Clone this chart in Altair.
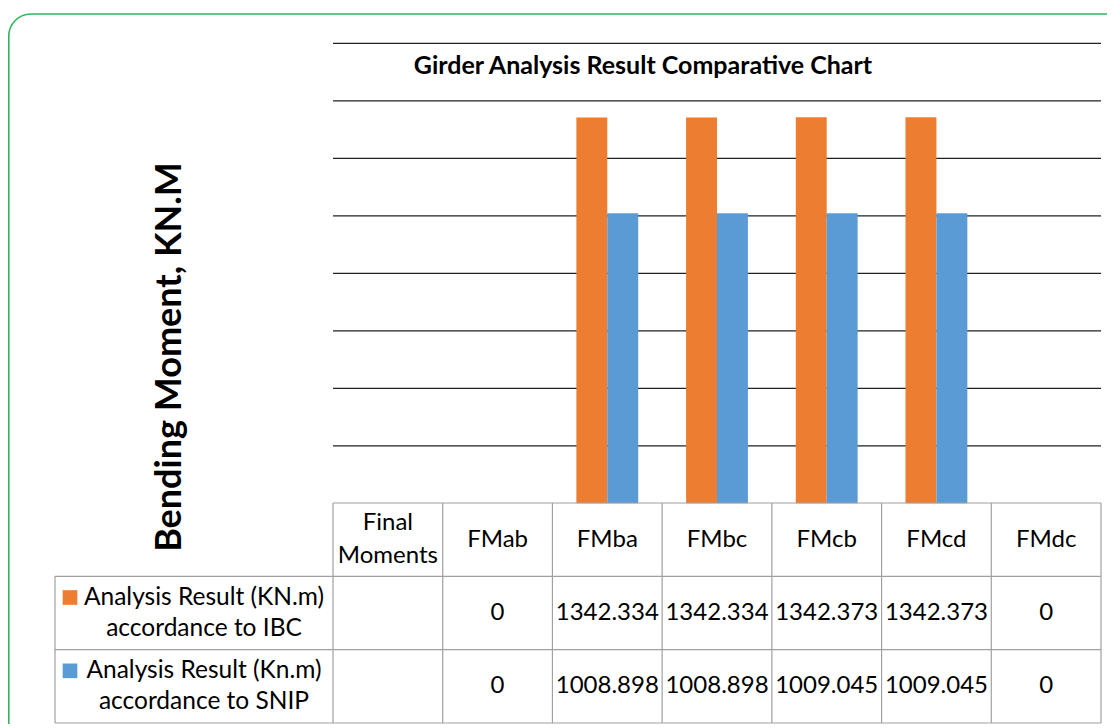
import altair as alt
import pandas as pd

# ---------------- data ----------------
categories = ["Final Moments", "FMab", "FMba", "FMbc", "FMcb", "FMcd", "FMdc"]
header_labels = ["Final\nMoments", "FMab", "FMba", "FMbc", "FMcb", "FMcd", "FMdc"]
series_names = ["IBC", "SNIP"]
series_labels = ["Analysis Result (KN.m)\naccordance to IBC",
                 "Analysis Result (Kn.m)\naccordance to SNIP"]
ibc_values = [None, 0, 1342.334, 1342.334, 1342.373, 1342.373, 0]
snip_values = [None, 0, 1008.898, 1008.898, 1009.045, 1009.045, 0]
series_colors = ["#ED7D31", "#5B9BD5"]
gridline_values = [200, 400, 600, 800, 1000, 1200, 1400, 1600]
title_text = "Girder Analysis Result Comparative Chart"
y_title_text = "Bending Moment, KN.M"

# ---------------- tables ----------------
rows = []
for si, (s, vals) in enumerate(zip(series_names, [ibc_values, snip_values])):
    for c, v in zip(categories, vals):
        if v is None:
            continue
        rows.append({"cat": c, "series": s, "value": v, "row": si + 1.5})
df = pd.DataFrame(rows)
df_head = pd.DataFrame({"cat": categories, "label": header_labels})
df_head["multi"] = df_head["label"].str.contains("\n")
df_series = pd.DataFrame({"series": series_names, "label": series_labels,
                          "row": [1.5, 2.5]})
df_grid = pd.DataFrame({"v": gridline_values})
df_last = pd.DataFrame({"cat": categories[-1:]})
df_one = pd.DataFrame({"t": [title_text], "yt": [y_title_text]})

FONT = "Lato"
PL, PR = 325, 1093          # plot area left / right (px)
LABEL_L = 47                # left edge of the data-table label column

xsc = alt.Scale(domain=categories, range=[PL, PR], paddingInner=0, paddingOuter=0)
ysc_bar = alt.Scale(domain=[0, 1600], range=[495.3, 35.3], nice=False, zero=False)
ysc_tab = alt.Scale(domain=[0, 3], range=[495, 715], nice=False, zero=False)
csc = alt.Scale(domain=series_names, range=series_colors)

border = alt.Chart(df_one).mark_rect(
    fillOpacity=0, stroke="#2DB85C", strokeWidth=1.6, cornerRadius=22
).encode(x=alt.value(0.8), x2=alt.value(1125), y=alt.value(6), y2=alt.value(760))

grid = alt.Chart(df_grid).mark_rule(color="#222222", strokeWidth=1.3).encode(
    y=alt.Y("v:Q", scale=ysc_bar, axis=None),
    x=alt.value(PL), x2=alt.value(PR),
)

bars = alt.Chart(df).mark_bar().encode(
    x=alt.X("cat:N", scale=xsc, axis=None, sort=categories),
    xOffset=alt.XOffset("series:N", scale=alt.Scale(domain=series_names,
                                                    paddingInner=0, paddingOuter=0.774)),
    y=alt.Y("value:Q", scale=ysc_bar, axis=None),
    color=alt.Color("series:N", scale=csc, legend=None),
)

line_color = "#A0A0A0"
hline_top = alt.Chart(df_one).mark_rule(color=line_color, strokeWidth=1.2).encode(
    y=alt.YDatum(0, scale=ysc_tab, axis=None, type="quantitative"),
    x=alt.value(PL), x2=alt.value(PR),
)
hlines = alt.Chart(pd.DataFrame({"r": [1, 2, 3]})).mark_rule(
    color=line_color, strokeWidth=1.2).encode(
    y=alt.Y("r:Q", scale=ysc_tab, axis=None),
    x=alt.value(LABEL_L), x2=alt.value(PR),
)
vlines = alt.Chart(df_head).mark_rule(color=line_color, strokeWidth=1.2).encode(
    x=alt.X("cat:N", scale=xsc, axis=None, bandPosition=0),
    y=alt.YDatum(0, scale=ysc_tab, axis=None, type="quantitative"),
    y2=alt.Y2Datum(3),
)
vline_right = alt.Chart(df_last).mark_rule(color=line_color, strokeWidth=1.2).encode(
    x=alt.X("cat:N", scale=xsc, axis=None, bandPosition=1),
    y=alt.YDatum(0, scale=ysc_tab, axis=None, type="quantitative"),
    y2=alt.Y2Datum(3),
)
vline_left = alt.Chart(df_one).mark_rule(color=line_color, strokeWidth=1.2).encode(
    x=alt.value(LABEL_L),
    y=alt.YDatum(1, scale=ysc_tab, axis=None, type="quantitative"),
    y2=alt.Y2Datum(3),
)

head_single = alt.Chart(df_head).transform_filter("!datum.multi").mark_text(
    font=FONT, fontSize=24, color="black"
).encode(
    x=alt.X("cat:N", scale=xsc, axis=None),
    y=alt.YDatum(0.5, scale=ysc_tab, axis=None, type="quantitative"),
    text="label:N",
)
head_multi = alt.Chart(df_head).transform_filter("datum.multi").mark_text(
    font=FONT, fontSize=24, color="black", lineBreak="\n", lineHeight=33, dy=-16.5
).encode(
    x=alt.X("cat:N", scale=xsc, axis=None),
    y=alt.YDatum(0.5, scale=ysc_tab, axis=None, type="quantitative"),
    text="label:N",
)

val_text = alt.Chart(df).mark_text(
    font=FONT, fontSize=24, color="black"
).encode(
    x=alt.X("cat:N", scale=xsc, axis=None),
    y=alt.Y("row:Q", scale=ysc_tab, axis=None),
    text=alt.Text("value:Q", format=".3~f"),
)

row_text = alt.Chart(df_series).mark_text(
    font=FONT, fontSize=24.5, color="black", lineBreak="\n", lineHeight=31, dy=-15.5
).encode(
    x=alt.value(196),
    y=alt.Y("row:Q", scale=ysc_tab, axis=None),
    text="label:N",
)

swatches = alt.Chart(df_series).mark_square(size=215, opacity=1, yOffset=-15.5).encode(
    x=alt.value(62),
    y=alt.Y("row:Q", scale=ysc_tab, axis=None),
    color=alt.Color("series:N", scale=csc, legend=None),
)

title = alt.Chart(df_one).mark_text(
    font=FONT, fontSize=25, fontWeight="bold", color="black"
).encode(x=alt.value(635), y=alt.value(58), text="t:N")

ytitle = alt.Chart(df_one).mark_text(
    font=FONT, fontSize=36, fontWeight="bold", color="black", angle=270
).encode(x=alt.value(162), y=alt.value(349), text="yt:N")

chart = alt.layer(
    border, grid, bars, hline_top, hlines, vlines, vline_right, vline_left,
    head_single, head_multi, val_text, row_text, swatches, title, ytitle
).resolve_scale(y="independent").properties(
    width=1099, height=716,
    autosize=alt.AutoSizeParams(type="none"), padding=0,
).configure_view(stroke=None)

chart.save("out.html", embed_options={"renderer": "svg", "actions": False})
